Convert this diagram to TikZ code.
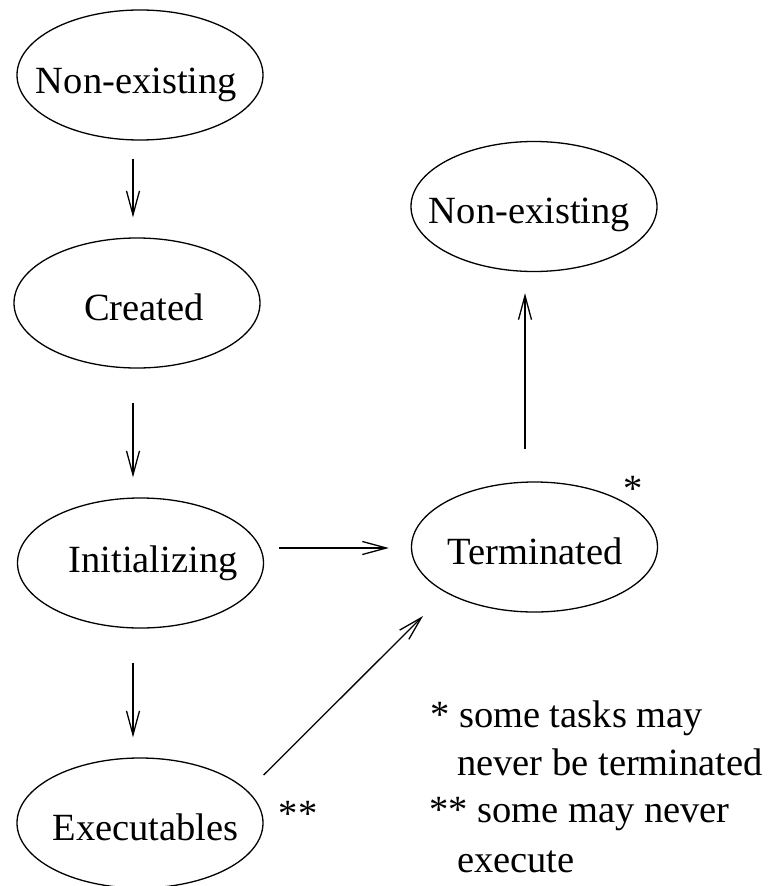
\documentclass[tikz,border=0pt]{standalone}
\usepackage{fontspec}
\setmainfont{Liberation Serif}
\usetikzlibrary{shapes.geometric,arrows.meta}
\begin{document}
\begin{tikzpicture}[x=1pt,y=-1pt,
  every node/.style={font=\fontsize{38.5}{46}\selectfont, inner sep=0pt},
  state/.style={draw, ellipse, line width=1.3pt, minimum width=246pt, minimum height=130pt},
  lbl/.style={anchor=base},
  arr/.style={line width=1.3pt, line join=round, -{Straight Barb[length=24pt,width=13pt,line width=1.3pt]}}]
\useasboundingbox[fill=white] (0,0) rectangle (771,886);
% states
\node[state] (ne1) at (140,75) {};
\node[state] (cr) at (137,303) {};
\node[state] (in) at (140.5,563) {};
\node[state] (ex) at (140,823) {};
\node[state] (te) at (534.5,547) {};
\node[state] (ne2) at (534,206.5) {};
% state texts
\node[lbl] (t1) at (136.5,93) {Non-existing};
\node[lbl] (t2) at (144,320) {Created};
\node[lbl] (t3) at (153,572) {Initializing};
\node[lbl] (t4) at (145.5,840) {Executables};
\node[lbl] (t5) at (535,564) {Terminated};
\node[lbl] (t6) at (529.5,223) {Non-existing};
% stars
\node[lbl] (s1) at (633,501) {*};
\node[lbl] (s2) at (298,826) {**};
% legend
\node[anchor=base west] (l1) at (430,727) {* some tasks may};
\node[anchor=base west] (l2) at (457,775) {never be terminated};
\node[anchor=base west] (l3) at (429,822) {** some may never};
\node[anchor=base west] (l4) at (457,872) {execute};
% connectors
\draw[arr] ([shift={(-7,18)}]ne1.south) -- ([shift={(-4,-20)}]cr.north);
\draw[arr] ([shift={(-4,34)}]cr.south) -- ([shift={(-7.5,-20)}]in.north);
\draw[arr] ([shift={(-7.5,34)}]in.south) -- ([shift={(-7,-20)}]ex.north);
\draw[arr] ([shift={(15,-15)}]in.east) -- ([shift={(-22,1)}]te.west);
\draw[arr] ([shift={(-9.5,-32)}]te.north) -- ([shift={(-9,21)}]ne2.south);
\draw[arr] ([shift={(0,-48)}]ex.east) -- ([shift={(-111.5,69)}]te.center);
\end{tikzpicture}
\end{document}
